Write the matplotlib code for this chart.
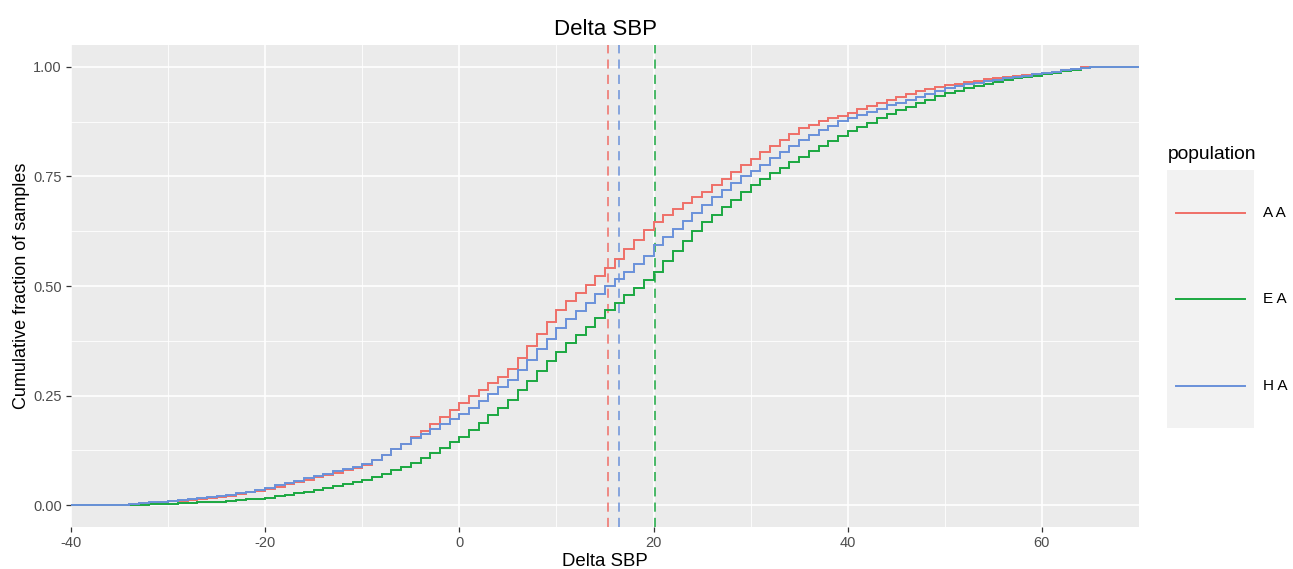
import matplotlib
matplotlib.use("Agg")
import matplotlib.pyplot as plt
from matplotlib.lines import Line2D
from matplotlib.patches import Rectangle

plt.rcParams['font.family'] = ['Liberation Sans', 'DejaVu Sans']

# ---- data ----
populations = ["A A", "E A", "H A"]
colors = ["#EF6F68", "#1BA841", "#6A91DA"]

delta_sbp = list(range(-36, 67))  # x knots, -36 .. 66

cdf_aa = [0, 0, 0.002, 0.004, 0.005, 0.007, 0.009, 0.010, 0.012, 0.014, 0.016,
          0.018, 0.021, 0.025, 0.029, 0.033, 0.037, 0.042, 0.047, 0.052, 0.057,
          0.063, 0.068, 0.074, 0.080, 0.085, 0.091, 0.102, 0.114, 0.127, 0.140,
          0.155, 0.170, 0.185, 0.200, 0.216, 0.233, 0.248, 0.263, 0.278, 0.293,
          0.310, 0.335, 0.362, 0.390, 0.418, 0.445, 0.465, 0.484, 0.503, 0.522,
          0.540, 0.562, 0.584, 0.606, 0.627, 0.646, 0.662, 0.676, 0.690, 0.702,
          0.715, 0.730, 0.745, 0.760, 0.775, 0.790, 0.805, 0.819, 0.833, 0.847,
          0.860, 0.868, 0.876, 0.883, 0.889, 0.895, 0.903, 0.911, 0.918, 0.925,
          0.932, 0.938, 0.944, 0.949, 0.954, 0.959, 0.962, 0.965, 0.968, 0.972,
          0.975, 0.977, 0.979, 0.982, 0.984, 0.986, 0.989, 0.992, 0.995, 1.0,
          1.0, 1.0]

cdf_ea = [0, 0, 0.001, 0.001, 0.002, 0.002, 0.003, 0.004, 0.005, 0.006, 0.007,
          0.008, 0.009, 0.011, 0.013, 0.015, 0.017, 0.020, 0.024, 0.028, 0.031,
          0.035, 0.039, 0.043, 0.048, 0.052, 0.057, 0.064, 0.072, 0.080, 0.088,
          0.096, 0.107, 0.119, 0.131, 0.143, 0.155, 0.171, 0.188, 0.205, 0.222,
          0.240, 0.262, 0.284, 0.306, 0.328, 0.350, 0.369, 0.388, 0.407, 0.426,
          0.445, 0.462, 0.479, 0.496, 0.513, 0.532, 0.556, 0.580, 0.603, 0.625,
          0.646, 0.663, 0.680, 0.697, 0.714, 0.730, 0.744, 0.757, 0.770, 0.783,
          0.795, 0.807, 0.819, 0.831, 0.842, 0.853, 0.863, 0.873, 0.883, 0.893,
          0.901, 0.909, 0.917, 0.925, 0.933, 0.940, 0.945, 0.951, 0.956, 0.961,
          0.966, 0.970, 0.974, 0.977, 0.980, 0.984, 0.987, 0.990, 0.994, 0.998,
          1.0, 1.0]

cdf_ha = [0, 0, 0.002, 0.004, 0.006, 0.008, 0.010, 0.012, 0.014, 0.016, 0.018,
          0.020, 0.024, 0.028, 0.031, 0.035, 0.039, 0.045, 0.050, 0.056, 0.061,
          0.067, 0.072, 0.077, 0.082, 0.087, 0.093, 0.104, 0.115, 0.127, 0.139,
          0.152, 0.163, 0.174, 0.185, 0.196, 0.207, 0.222, 0.237, 0.253, 0.269,
          0.285, 0.308, 0.332, 0.356, 0.380, 0.405, 0.424, 0.443, 0.462, 0.481,
          0.500, 0.517, 0.533, 0.550, 0.568, 0.594, 0.612, 0.630, 0.648, 0.667,
          0.685, 0.702, 0.718, 0.734, 0.750, 0.763, 0.777, 0.791, 0.805, 0.819,
          0.833, 0.844, 0.855, 0.866, 0.876, 0.884, 0.891, 0.898, 0.905, 0.912,
          0.918, 0.925, 0.932, 0.939, 0.946, 0.952, 0.956, 0.960, 0.964, 0.967,
          0.970, 0.974, 0.977, 0.980, 0.983, 0.986, 0.989, 0.992, 0.995, 0.998,
          1.0, 1.0]

mean_sbp = [15.3, 20.1, 16.4]  # dashed reference lines (AA, EA, HA)

x_ticks = [-40, -20, 0, 20, 40, 60]
y_ticks = [0.0, 0.25, 0.5, 0.75, 1.0]
y_tick_labels = ["0.00", "0.25", "0.50", "0.75", "1.00"]

# ---- figure ----
W, H = 1293, 569
fig = plt.figure(figsize=(W / 100, H / 100), dpi=100)
ax = fig.add_axes([71 / W, 1 - 527 / H, (1139 - 71) / W, (527 - 45) / H])
ax.set_facecolor("#EBEBEB")
for s in ax.spines.values():
    s.set_visible(False)

xlim = (-40, 70)
ax.set_xlim(*xlim)
ax.set_ylim(-0.05, 1.05)

# grid
for xv in [-30, -10, 10, 30, 50]:
    ax.axvline(xv, color="white", lw=0.6, zorder=0)
for yv in [0.125, 0.375, 0.625, 0.875]:
    ax.axhline(yv, color="white", lw=0.6, zorder=0)
for xv in x_ticks:
    ax.axvline(xv, color="white", lw=1.2, zorder=0)
for yv in y_ticks:
    ax.axhline(yv, color="white", lw=1.2, zorder=0)

series = [cdf_aa, cdf_ea, cdf_ha]
for vals, col in zip(series, colors):
    xs = [xlim[0]] + delta_sbp + [xlim[1]]
    ys = [0.0] + vals + [1.0]
    ax.plot(xs, ys, drawstyle="steps-post", color=col, lw=1.4, zorder=3,
            solid_joinstyle="miter")

for m, col in zip(mean_sbp, colors):
    ax.axvline(m, color=col, lw=1.1, linestyle=(0, (6, 4)), zorder=2)

ax.set_xticks(x_ticks)
ax.set_xticklabels([str(v) for v in x_ticks])
ax.set_yticks(y_ticks)
ax.set_yticklabels(y_tick_labels)
ax.tick_params(axis="both", colors="#333333", labelcolor="#4D4D4D",
               labelsize=10.5, length=3.5, width=0.9, pad=3)

ax.set_xlabel("Delta SBP", fontsize=13.4, color="black", labelpad=2)
ax.set_ylabel("Cumulative fraction of samples", fontsize=13, color="black",
              labelpad=2.5)
ax.set_title("Delta SBP", fontsize=16, color="black", pad=7)

# legend (ggplot style)
fig.text(1168 / W, 1 - 155 / H, "population", fontsize=13.9, ha="left",
         va="center", color="black")
fig.patches.append(Rectangle((1167 / W, 1 - 428 / H), (1254 - 1167) / W,
                             (428 - 170) / H, transform=fig.transFigure,
                             facecolor="#F2F2F2", edgecolor="none"))
key_y = [213, 299, 386]
for lab, col, ky in zip(populations, colors, key_y):
    fig.add_artist(Line2D([1176 / W, 1245 / W], [1 - ky / H, 1 - ky / H],
                          transform=fig.transFigure, color=col, lw=1.4))
    fig.text(1263 / W, 1 - ky / H, lab, fontsize=11, ha="left", va="center",
             color="black")

fig.savefig("out.png", dpi=100, facecolor="white")
